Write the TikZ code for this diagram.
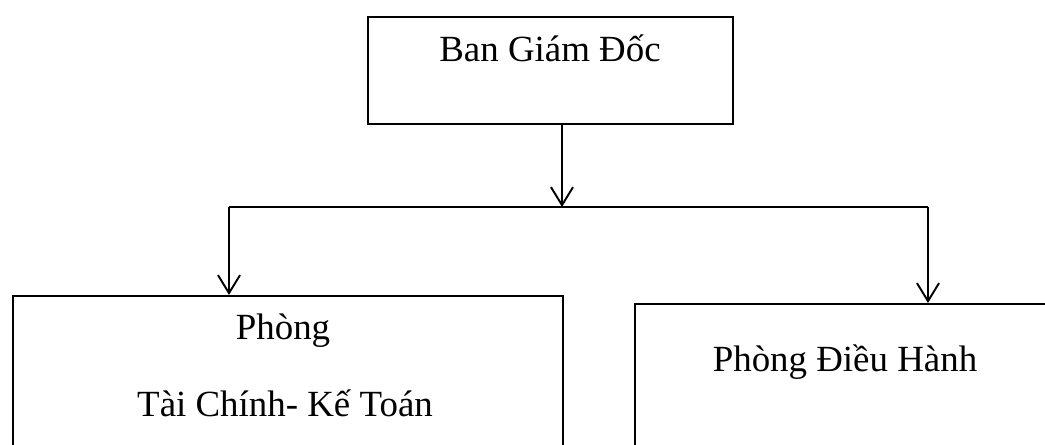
\documentclass[tikz,border=0pt]{standalone}
\usepackage{fontspec}
\setmainfont{Liberation Serif}
\usetikzlibrary{arrows.meta}

\begin{document}
\begin{tikzpicture}[x=0.02cm, y=-0.02cm, line width=1.1pt,
        box/.style={draw, anchor=north west, inner sep=0pt},
        txt/.style={anchor=base, font=\fontsize{21}{25}\selectfont},
        arr/.style={-{Straight Barb[length=0.36cm, width=0.44cm]}}]
            \useasboundingbox (0,0) rectangle (1045,445);

            \node[box, minimum width=7.3cm, minimum height=2.14cm] (bgd) at (367,16) {};
            \node[box, minimum width=11cm, minimum height=4.1cm] (tckt) at (12,295) {};
            \node[box, minimum width=9.4cm, minimum height=3.94cm] (dh) at (634,303) {};

            \node[txt] (bgdtext) at (550,62) {Ban Giám Đốc};
            \node[txt] (tckttext1) at (283,340) {Phòng};
            \node[txt] (tckttext2) at (285,417) {Tài Chính- Kế Toán};
            \node[txt] (dhtext) at (845,372) {Phòng Điều Hành};

            \coordinate (split) at (562,207);
            \coordinate (left) at (229,207);
            \coordinate (right) at (928,207);

            \draw[arr] (split |- bgd.south) -- (split);
            \draw (left) -- (right);
            \draw[arr] (left) -- (left |- tckt.north);
            \draw[arr] (right) -- (right |- dh.north);
        \end{tikzpicture}
\end{document}
